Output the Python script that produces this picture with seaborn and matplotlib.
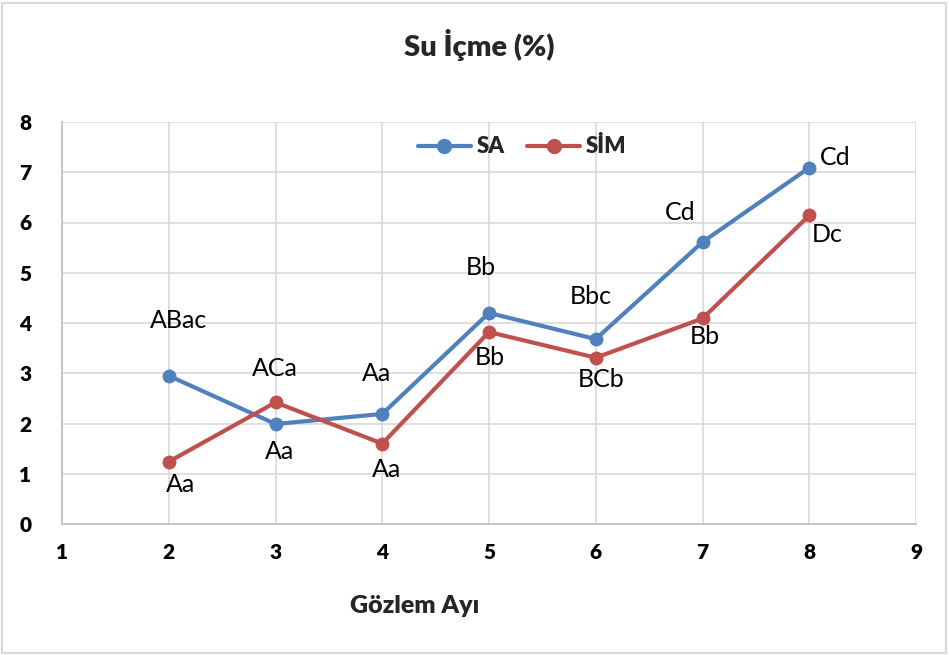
import matplotlib
matplotlib.use("Agg")
import matplotlib.pyplot as plt
import seaborn as sns
import pandas as pd
from matplotlib.patches import Rectangle

# Monthly water-drinking percentages for the two groups
months = [2, 3, 4, 5, 6, 7, 8]
sa_values = [2.95, 1.99, 2.19, 4.2, 3.68, 5.61, 7.09]
sim_values = [1.24, 2.42, 1.6, 3.82, 3.31, 4.09, 6.14]

# Significance letters shown beside each point
sa_letters = ["ABac", "Aa", "Aa", "Bb", "Bbc", "Cd", "Cd"]
sim_letters = ["Aa", "ACa", "Aa", "Bb", "BCb", "Bb", "Dc"]

series_names = ["SA", "SİM"]
x_ticks = [1, 2, 3, 4, 5, 6, 7, 8, 9]
y_ticks = [0, 1, 2, 3, 4, 5, 6, 7, 8]

sns.set_theme(style="white")
plt.rcParams["font.family"] = ["Lato", "DejaVu Sans"]

df = pd.DataFrame({
    "Ay": months * 2,
    "Deger": sa_values + sim_values,
    "Grup": [series_names[0]] * len(months) + [series_names[1]] * len(months),
})

palette = {"SA": "#4f81bd", "SİM": "#c0504d"}

fig = plt.figure(figsize=(9.49, 6.55), dpi=100)
ax = fig.add_axes([62 / 949, 1 - 524 / 655, (916 - 62) / 949, (524 - 122) / 655])

sns.lineplot(data=df, x="Ay", y="Deger", hue="Grup", palette=palette,
             marker="o", markersize=10, markeredgewidth=0, linewidth=3,
             ax=ax, legend=True)

ax.set_xlim(1, 9)
ax.set_ylim(0, 8)
ax.set_xticks(x_ticks)
ax.set_yticks(y_ticks)
ax.grid(True, color="#d9d9d9", linewidth=1.2)
ax.set_axisbelow(True)
for side in ["top", "right"]:
    ax.spines[side].set_visible(False)
for side in ["left", "bottom"]:
    ax.spines[side].set_color("#bfbfbf")
    ax.spines[side].set_linewidth(1.2)
ax.tick_params(axis="both", length=0, labelsize=15, colors="black")
ax.tick_params(axis="x", pad=14)
ax.tick_params(axis="y", pad=22)
for lbl in ax.get_xticklabels() + ax.get_yticklabels():
    lbl.set_fontweight("heavy")
ax.set_xlabel("")
ax.set_ylabel("")

# Letter labels, offset in pixels from each point
sa_offsets = [(10, 55), (4, -27), (-6, 40), (-8, 45), (-5, 43), (-22, 30), (26, 10)]
sim_offsets = [(12, -23), (-1, 34), (4, -26), (1, -25), (5, -22), (2, -18), (18, -19)]
for x, y, t, off in zip(months, sa_values, sa_letters, sa_offsets):
    ax.annotate(t, (x, y), xytext=off, textcoords="offset pixels",
                ha="center", va="center", fontsize=18, color="black")
for x, y, t, off in zip(months, sim_values, sim_letters, sim_offsets):
    ax.annotate(t, (x, y), xytext=off, textcoords="offset pixels",
                ha="center", va="center", fontsize=18, color="black")

leg = ax.legend(loc="center", bbox_to_anchor=(522 / 949, 1 - 147 / 655),
                bbox_transform=fig.transFigure, ncol=2, frameon=False,
                handlelength=2.4, columnspacing=1.0, handletextpad=0.25,
                prop={"weight": "heavy", "size": 16})
for h in leg.get_lines():
    h.set_markersize(11)

fig.text(479 / 949, 1 - 45 / 655, "Su İçme (%)", ha="center", va="center",
         fontsize=21, fontweight="heavy")
fig.text(415 / 949, 1 - 606 / 655, "Gözlem Ayı", ha="center", va="center",
         fontsize=18, fontweight="heavy")

fig.patches.append(Rectangle((2 / 949, 2 / 655), 1 - 5 / 949, 1 - 5 / 655,
                             transform=fig.transFigure, fill=False,
                             edgecolor="#d9d9d9", linewidth=1.5))

fig.savefig("out.png", dpi=100)
